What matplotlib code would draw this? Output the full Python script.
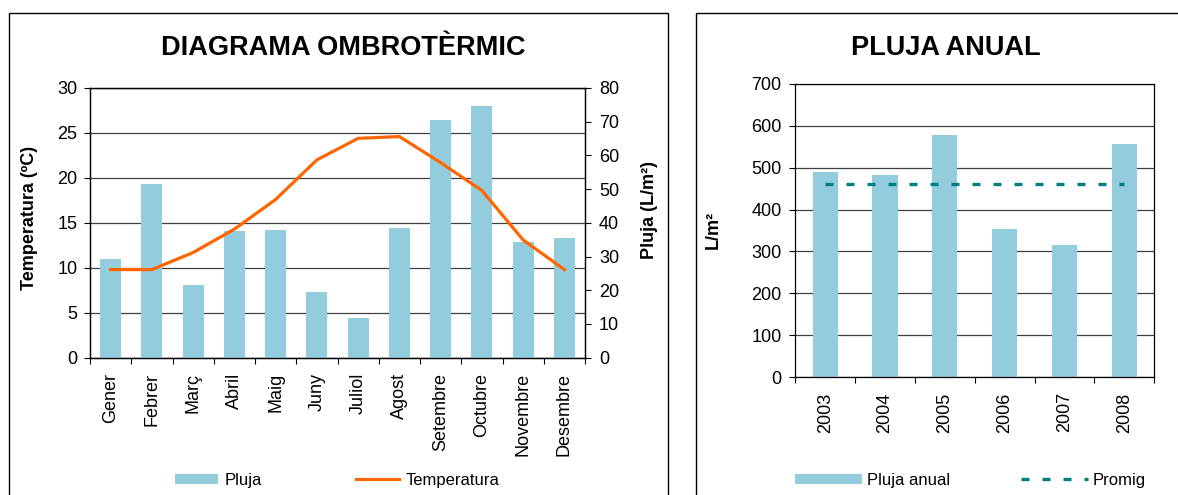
import matplotlib
matplotlib.use("Agg")
import matplotlib.pyplot as plt
from matplotlib.patches import Rectangle, Patch
from matplotlib.lines import Line2D
import numpy as np

plt.rcParams['font.family'] = ['Liberation Sans', 'DejaVu Sans']

# dades
mesos = ["Gener", "Febrer", "Març", "Abril", "Maig", "Juny", "Juliol",
         "Agost", "Setembre", "Octubre", "Novembre", "Desembre"]
temperatura = [9.8, 9.8, 11.7, 14.3, 17.6, 22.0, 24.4, 24.6, 21.7, 18.6, 13.1, 9.8]
pluja = [29.3, 51.5, 21.6, 37.6, 37.9, 19.5, 11.8, 38.5, 70.5, 74.7, 34.4, 35.6]

anys = ["2003", "2004", "2005", "2006", "2007", "2008"]
pluja_anual = [490, 483, 578, 354, 315, 557]
promig = 462

BLAU = "#93CDDD"
TARONJA = "#FF6600"
VERD = "#008080"
GRID = "#404040"

W, H = 1178, 495
fig = plt.figure(figsize=(W / 100, H / 100), dpi=100)


def px(l, t, r, b):
    return [l / W, 1 - b / H, (r - l) / W, (b - t) / H]


# marcs dels dos graf
for (l, r) in [(9, 668), (696, 1190)]:
    fig.patches.append(Rectangle((l / W, 1 - 520 / H), (r - l) / W, 507 / H,
                                 transform=fig.transFigure, fill=False,
                                 ec="black", lw=1.0))

# ---- diagrama ombrotermic ----
ax1 = fig.add_axes(px(90, 88, 585, 357.7))
ax2 = ax1.twinx()
x = np.arange(len(mesos))

ax1.set_ylim(0, 30)
ax1.set_yticks(np.arange(0, 31, 5))
ax1.yaxis.grid(True, color=GRID, lw=0.9)
ax1.set_axisbelow(True)
ax2.set_ylim(0, 80)
ax2.set_yticks(np.arange(0, 81, 10))

ax2.bar(x, pluja, width=0.51, color=BLAU, zorder=2)
ax2.plot(x, temperatura, color=TARONJA, lw=2.3, zorder=3, transform=ax1.transData,
         solid_joinstyle="miter")

ax1.set_xlim(-0.5, len(mesos) - 0.5)
ax1.set_xticks(x)
ax1.set_xticklabels(mesos, rotation=90, fontsize=13)
ax1.set_xticks(np.arange(-0.5, len(mesos), 1), minor=True)
ax1.tick_params(axis="x", which="major", length=0, pad=11)
ax1.tick_params(axis="x", which="minor", length=4, direction="out", width=0.8)
ax1.tick_params(axis="y", labelsize=13, length=4, width=0.8, pad=5)
ax2.tick_params(axis="y", labelsize=13, length=4, width=0.8, pad=6)
for a in (ax1, ax2):
    for s in a.spines.values():
        s.set_linewidth(0.9)

fig.text(343 / W, 1 - 48 / H, "DIAGRAMA OMBROTÈRMIC", fontsize=19.5,
         fontweight="bold", ha="center", va="center")
fig.text(30 / W, 1 - 218 / H, "Temperatura (ºC)", fontsize=13, fontweight="bold",
         rotation=90, ha="center", va="center")
fig.text(649 / W, 1 - 210 / H, "Pluja (L/m²)", fontsize=13, fontweight="bold",
         rotation=90, ha="center", va="center")

h1 = [Patch(facecolor=BLAU, edgecolor="none"),
      Line2D([], [], color=TARONJA, lw=2.3)]
fig.legend(h1, ["Pluja", "Temperatura"], loc="center left",
           bbox_to_anchor=(175 / W, 1 - 480 / H), ncol=2, frameon=False,
           fontsize=12, handlelength=2.6, handleheight=0.55, handletextpad=0.4,
           columnspacing=5.6, borderpad=0, borderaxespad=0)

# ---- pluja anual ----
ax3 = fig.add_axes(px(795.3, 84, 1154.3, 377))
xa = np.arange(len(anys))
ax3.bar(xa, pluja_anual, width=0.42, color=BLAU, zorder=2)
ax3.plot(xa, [promig] * len(anys), color=VERD, lw=2.4,
         linestyle=(0, (2.4, 3.9)), dash_capstyle="butt", zorder=3)
ax3.set_ylim(0, 700)
ax3.set_yticks(np.arange(0, 701, 100))
ax3.yaxis.grid(True, color=GRID, lw=0.9)
ax3.set_axisbelow(True)
ax3.set_xlim(-0.5, len(anys) - 0.5)
ax3.set_xticks(xa)
ax3.set_xticklabels(anys, rotation=90, fontsize=13)
ax3.set_xticks(np.arange(-0.5, len(anys), 1), minor=True)
ax3.tick_params(axis="x", which="major", length=0, pad=11)
ax3.tick_params(axis="x", which="minor", length=4, direction="out", width=0.8)
ax3.tick_params(axis="y", labelsize=13, length=4, width=0.8, pad=6)
for s in ax3.spines.values():
    s.set_linewidth(0.9)

fig.text(946 / W, 1 - 48 / H, "PLUJA ANUAL", fontsize=19.5,
         fontweight="bold", ha="center", va="center")
fig.text(713 / W, 1 - 230 / H, "L/m²", fontsize=13, fontweight="bold",
         rotation=90, ha="center", va="center")

h2 = [Patch(facecolor=BLAU, edgecolor="none"),
      Line2D([], [], color=VERD, lw=2.4, linestyle=(0, (2.4, 3.9)))]
fig.legend(h2, ["Pluja anual", "Promig"], loc="center left",
           bbox_to_anchor=(795 / W, 1 - 480 / H), ncol=2, frameon=False,
           fontsize=12, handlelength=4.0, handleheight=0.55, handletextpad=0.3,
           columnspacing=4.3, borderpad=0, borderaxespad=0)

fig.savefig("out.png", dpi=100)
